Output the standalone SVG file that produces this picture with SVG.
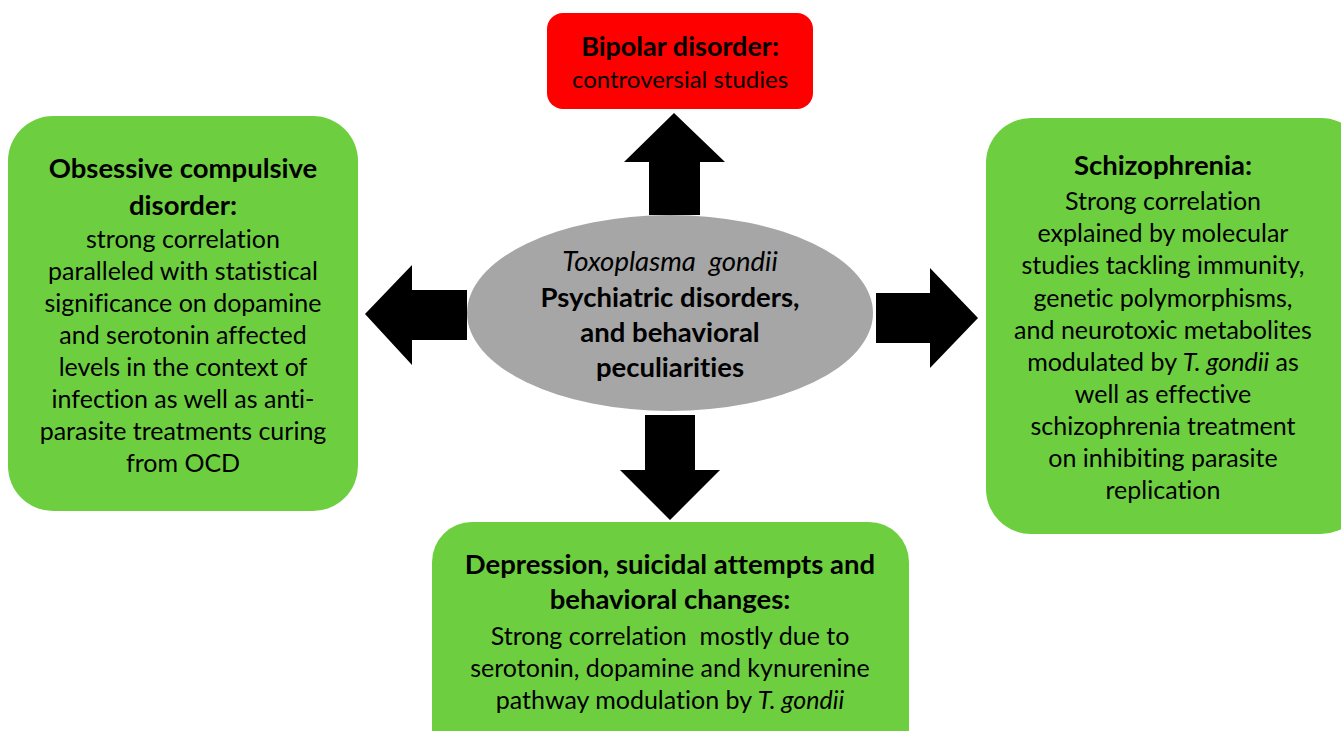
<svg xmlns="http://www.w3.org/2000/svg" width="1341" height="731" viewBox="0 0 1341 731">
<style>
text{font-family:Lato,"Open Sans","Liberation Sans",sans-serif;fill:#000;text-anchor:middle;font-variant-ligatures:none}
.b{font-weight:bold;font-size:27.5px}
.r{font-size:25px}
.pre{white-space:pre}
.green{fill:#6dcf3f}
.arrow{fill:#000}
</style>
<rect width="1341" height="731" fill="#fff"/>
<g id="bipolar">
<rect x="547" y="13" width="266" height="96" rx="16" fill="#ff0000"/>
<text class="b" x="680" y="56" style="font-size:27px">Bipolar disorder:</text>
<text class="r" x="680" y="88" style="font-size:24px">controversial studies</text>
</g>
<g id="center">
<ellipse cx="670" cy="313" rx="203" ry="98" fill="#a6a6a6"/>
<text class="b pre" x="670" y="271" xml:space="preserve" style="font-style:italic;font-weight:normal">Toxoplasma  gondii</text>
<text class="b" x="670" y="307">Psychiatric disorders,</text>
<text class="b" x="670" y="342">and behavioral</text>
<text class="b" x="670" y="377">peculiarities</text>
</g>
<g id="ocd">
<rect x="8" y="116" width="350" height="395" rx="45" class="green"/>
<text class="b" x="183" y="178">Obsessive compulsive</text>
<text class="b" x="183" y="215">disorder:</text>
<text class="r" x="183" y="248">strong correlation</text>
<text class="r" x="183" y="280">paralleled with statistical</text>
<text class="r" x="183" y="312">significance on dopamine</text>
<text class="r" x="183" y="344">and serotonin affected</text>
<text class="r" x="183" y="376">levels in the context of</text>
<text class="r" x="183" y="408">infection as well as anti-</text>
<text class="r" x="183" y="440">parasite treatments curing</text>
<text class="r" x="183" y="472">from OCD</text>
</g>
<g id="schizophrenia">
<rect x="986" y="118" width="380" height="416" rx="45" class="green"/>
<text class="b" x="1163" y="175">Schizophrenia:</text>
<text class="r" x="1163" y="210">Strong correlation</text>
<text class="r" x="1163" y="242">explained by molecular</text>
<text class="r" x="1163" y="274">studies tackling immunity,</text>
<text class="r" x="1163" y="307">genetic polymorphisms,</text>
<text class="r" x="1163" y="339">and neurotoxic metabolites</text>
<text class="r" x="1163" y="371">modulated by <tspan font-style="italic">T. gondii</tspan> as</text>
<text class="r" x="1163" y="403">well as effective</text>
<text class="r" x="1163" y="435">schizophrenia treatment</text>
<text class="r" x="1163" y="467">on inhibiting parasite</text>
<text class="r" x="1163" y="499">replication</text>
</g>
<g id="depression">
<rect x="432" y="522" width="477" height="260" rx="40" class="green"/>
<text class="b" x="670" y="574">Depression, suicidal attempts and</text>
<text class="b" x="670" y="609">behavioral changes:</text>
<text class="r pre" x="670" y="645" xml:space="preserve">Strong correlation  mostly due to</text>
<text class="r" x="670" y="677">serotonin, dopamine and kynurenine</text>
<text class="r" x="670" y="709">pathway modulation by <tspan font-style="italic">T. gondii</tspan></text>
</g>
<g id="connectors">
<polygon class="arrow" points="649,215 649,162 624,162 674,113 725,162 700,162 700,215"/>
<polygon class="arrow" points="467,290 412,290 412,265 365,314 412,365 412,340 467,340"/>
<polygon class="arrow" points="876,293 930,293 930,268 978,318 930,368 930,343 876,343"/>
<polygon class="arrow" points="645,415 695,415 695,470 720,470 670,520 620,470 645,470"/>
</g>
</svg>
